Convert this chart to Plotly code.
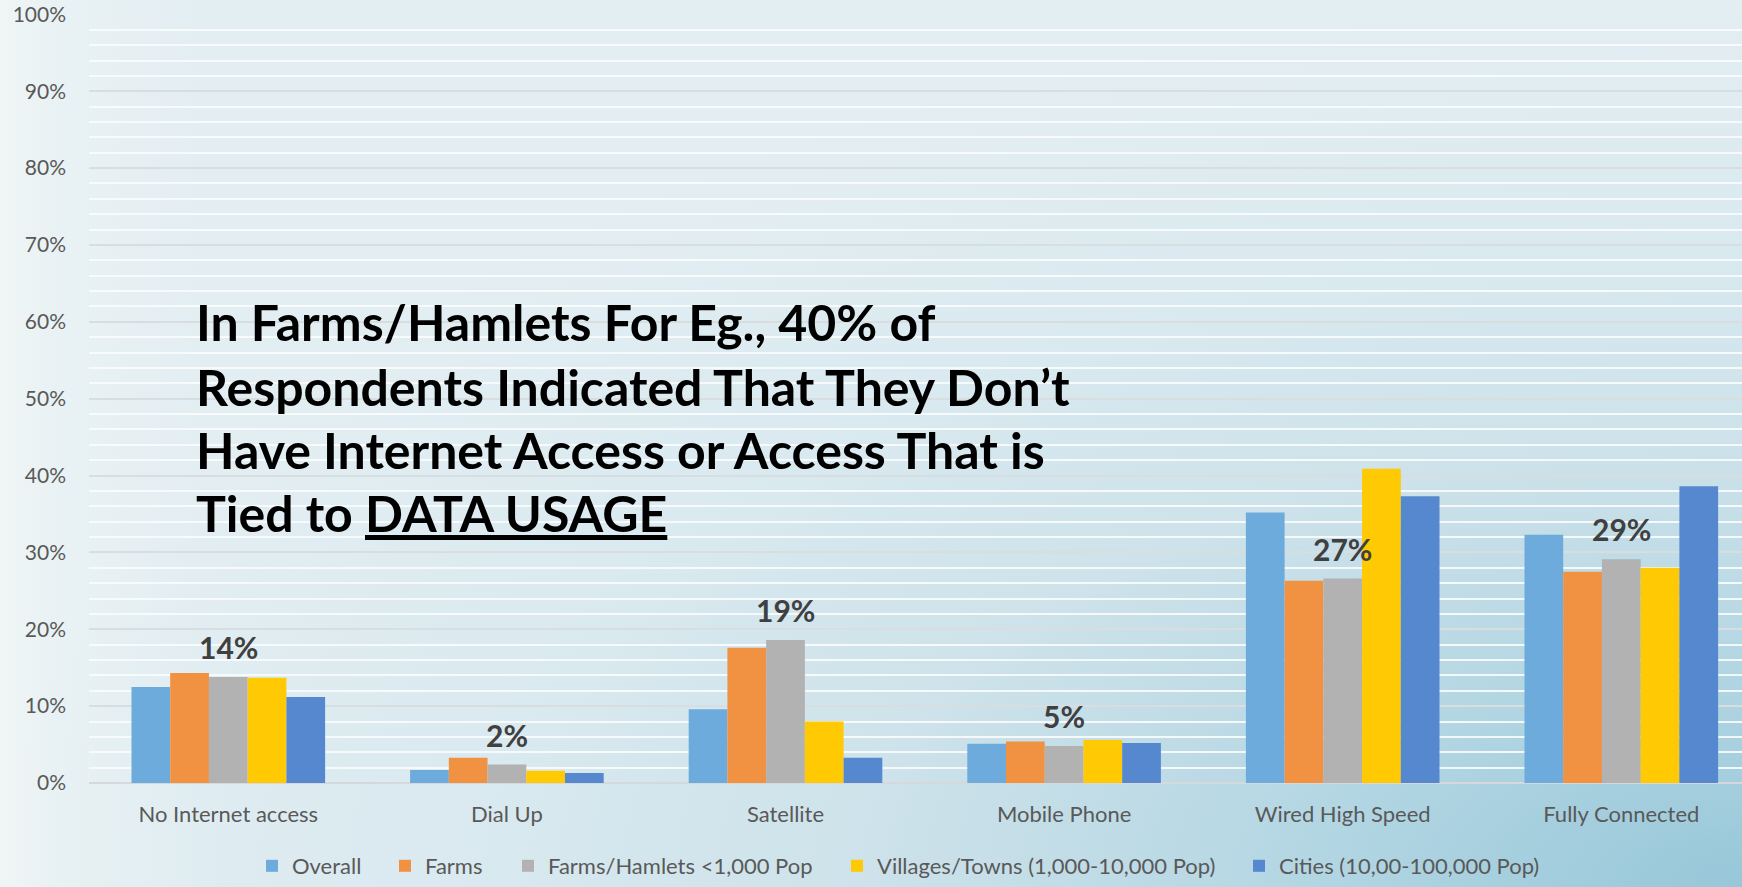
import base64
import plotly.graph_objects as go

# Connection type categories and share of respondents (%) per community type
categories = ["No Internet access", "Dial Up", "Satellite", "Mobile Phone",
              "Wired High Speed", "Fully Connected"]
overall = [12.5, 1.7, 9.6, 5.1, 35.2, 32.3]
farms = [14.3, 3.3, 17.6, 5.4, 26.3, 27.5]
hamlets = [13.8, 2.4, 18.6, 4.8, 26.6, 29.1]
villages = [13.7, 1.6, 8.0, 5.6, 40.9, 28.0]
cities = [11.2, 1.3, 3.3, 5.2, 37.3, 38.6]

series_names = ["Overall", "Farms", "Farms/Hamlets <1,000 Pop",
                "Villages/Towns (1,000-10,000 Pop)", "Cities (10,00-100,000 Pop)"]
series_values = [overall, farms, hamlets, villages, cities]
series_colors = ["#6DABDC", "#F19142", "#B2B2B2", "#FFCA03", "#5588CF"]

y_ticks = list(range(0, 101, 10))
y_tick_text = [f"{v}%" for v in y_ticks]

headline = [
    "In Farms/Hamlets For Eg., 40% of",
    "Respondents Indicated That They Don\u2019t",
    "Have Internet Access or Access That is",
    "Tied to <u>DATA USAGE</u>",
]

W, H = 1742, 887
ML, MR, MT, MB = 89, 0, 14, 104
PW, PH = W - ML - MR, H - MT - MB

# Soft blue backdrop: elliptical glow from the lower right, lighter at the left edge
svg = f"""<svg xmlns='http://www.w3.org/2000/svg' width='{W}' height='{H}' viewBox='0 0 {W} {H}' preserveAspectRatio='none'>
<defs>
<radialGradient id='r' cx='1' cy='1' r='1' gradientUnits='objectBoundingBox'>
<stop offset='0' stop-color='#97C7D9'/>
<stop offset='0.25' stop-color='#B3D6E3'/>
<stop offset='0.5' stop-color='#CDE2EA'/>
<stop offset='0.75' stop-color='#DAEAF0'/>
<stop offset='1' stop-color='#E3EEF2'/>
</radialGradient>
<linearGradient id='l' x1='0' y1='0' x2='1' y2='0'>
<stop offset='0' stop-color='#F4F8F6' stop-opacity='0.75'/>
<stop offset='0.03' stop-color='#F4F8F7' stop-opacity='0.35'/>
<stop offset='0.12' stop-color='#F4F8F8' stop-opacity='0'/>
</linearGradient>
</defs>
<rect width='{W}' height='{H}' fill='url(#r)'/>
<rect width='{W}' height='{H}' fill='url(#l)'/>
</svg>"""
bg_uri = "data:image/svg+xml;base64," + base64.b64encode(svg.encode()).decode()

fig = go.Figure()

legend_ids = ["legend", "legend2", "legend3", "legend4", "legend5"]
for name, vals, color, lid in zip(series_names, series_values, series_colors, legend_ids):
    fig.add_trace(go.Bar(
        x=categories, y=vals, name=name, legend=lid,
        marker=dict(color=color, line=dict(width=0)),
        hoverinfo="x+y+name",
    ))

# Value labels for the Farms/Hamlets series, centred over each group
for cat, v in zip(categories, hamlets):
    fig.add_annotation(
        x=cat, y=v, text=f"<b>{round(v)}%</b>", showarrow=False,
        yanchor="bottom", yshift=10,
        font=dict(family="Lato, sans-serif", size=30, color="#404040"),
    )

# Headline statement
line_centers = [322, 387, 450, 513]
for txt, py in zip(headline, line_centers):
    fig.add_annotation(
        xref="paper", yref="paper",
        x=(194 - ML) / PW, y=(783 - py) / PH,
        xanchor="left", yanchor="middle", showarrow=False,
        text=f"<b>{txt}</b>",
        font=dict(family="Lato, sans-serif", size=50, color="#000000"),
    )

# One legend per series so each entry sits at its own spot along the bottom
legend_px = [252, 385, 508, 837, 1239]
leg_font = dict(family="Lato, sans-serif", size=22, color="#595959")
legend_layout = {}
for lid, px in zip(legend_ids, legend_px):
    legend_layout[lid] = dict(
        orientation="h", x=px / W, xref="container",
        y=-0.009, yref="container",
        xanchor="left", yanchor="bottom", bgcolor="rgba(0,0,0,0)",
        font=leg_font, borderwidth=0,
    )

fig.update_layout(
    width=W, height=H,
    margin=dict(l=ML, r=MR, t=MT, b=MB, pad=0, autoexpand=False),
    paper_bgcolor="#E8EFF2",
    plot_bgcolor="rgba(0,0,0,0)",
    barmode="group", bargap=0.305, bargroupgap=0,
    showlegend=True,
    images=[dict(
        source=bg_uri, xref="paper", yref="paper",
        x=-ML / PW, y=1 + MT / PH, sizex=W / PW, sizey=H / PH,
        xanchor="left", yanchor="top", sizing="stretch", layer="below",
    )],
    xaxis=dict(
        range=[-0.5, -0.5 + PW / 278.6],
        showgrid=False, zeroline=False, showline=False, ticks="",
        tickfont=dict(family="Lato, sans-serif", size=22, color="#595959"),
        ticklabelstandoff=16,
    ),
    yaxis=dict(
        range=[0, 100.05], tickmode="array", tickvals=y_ticks, ticktext=y_tick_text,
        showgrid=True, gridcolor="#D8DDE0", gridwidth=2,
        zeroline=True, zerolinecolor="#D5D9DC", zerolinewidth=2,
        showline=False, ticks="",
        tickfont=dict(family="Lato, sans-serif", size=21, color="#595959"),
        ticklabelstandoff=22,
        minor=dict(dtick=2, showgrid=True, gridcolor="rgba(250,252,253,0.9)", gridwidth=2),
    ),
    **legend_layout,
)

fig.write_html("out.html")
